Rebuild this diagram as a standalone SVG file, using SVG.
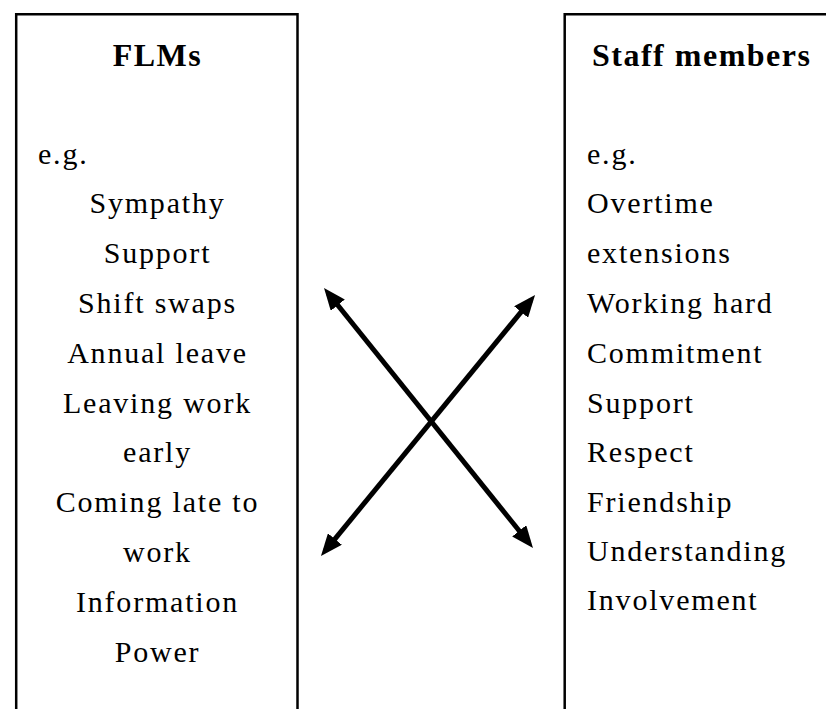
<svg xmlns="http://www.w3.org/2000/svg" width="826" height="709" viewBox="0 0 826 709">
<style>
.box{fill:none;stroke:#000;stroke-width:2.5}
.title{font-family:"Liberation Serif","Times New Roman",serif;font-weight:bold;font-size:32px;letter-spacing:1.5px;fill:#000}
.item{font-family:"Liberation Serif","Times New Roman",serif;font-size:30px;letter-spacing:1.8px;fill:#000}
.c{text-anchor:middle}
.conn{stroke:#000;stroke-width:5;fill:none;marker-start:url(#ah);marker-end:url(#ah)}
</style>
<defs>
<marker id="ah" markerUnits="userSpaceOnUse" viewBox="0 0 22 18" refX="15" refY="9" markerWidth="22" markerHeight="18" orient="auto-start-reverse">
<path d="M0,0 L22,9 L0,18 z" fill="#000"/>
</marker>
</defs>
<rect width="826" height="709" fill="#fff"/>
<g id="flms">
<path class="box" d="M16.2,712 V14.3 H297.5 V712"/>
<text class="title c" x="157.5" y="66">FLMs</text>
<text class="item" x="38" y="164">e.g.</text>
<text class="item c" x="157.5" y="213">Sympathy</text>
<text class="item c" x="157.5" y="263">Support</text>
<text class="item c" x="157.5" y="313">Shift swaps</text>
<text class="item c" x="157.5" y="363">Annual leave</text>
<text class="item c" x="157.5" y="413">Leaving work</text>
<text class="item c" x="157.5" y="462">early</text>
<text class="item c" x="157.5" y="512">Coming late to</text>
<text class="item c" x="157.5" y="562">work</text>
<text class="item c" x="157.5" y="612">Information</text>
<text class="item c" x="157.5" y="662">Power</text>
</g>
<g id="staff">
<path class="box" d="M564.7,712 V14.3 H830"/>
<text class="title" x="592" y="66">Staff members</text>
<text class="item" x="587" y="164">e.g.</text>
<text class="item" x="587" y="213">Overtime</text>
<text class="item" x="587" y="263">extensions</text>
<text class="item" x="587" y="313">Working hard</text>
<text class="item" x="587" y="363">Commitment</text>
<text class="item" x="587" y="413">Support</text>
<text class="item" x="587" y="462">Respect</text>
<text class="item" x="587" y="512">Friendship</text>
<text class="item" x="587" y="561">Understanding</text>
<text class="item" x="587" y="610">Involvement</text>
</g>
<g id="connectors">
<line class="conn" x1="328.4" y1="293.5" x2="528.6" y2="542.5"/>
<line class="conn" x1="325.4" y1="550.6" x2="530.6" y2="300.4"/>
</g>
</svg>
